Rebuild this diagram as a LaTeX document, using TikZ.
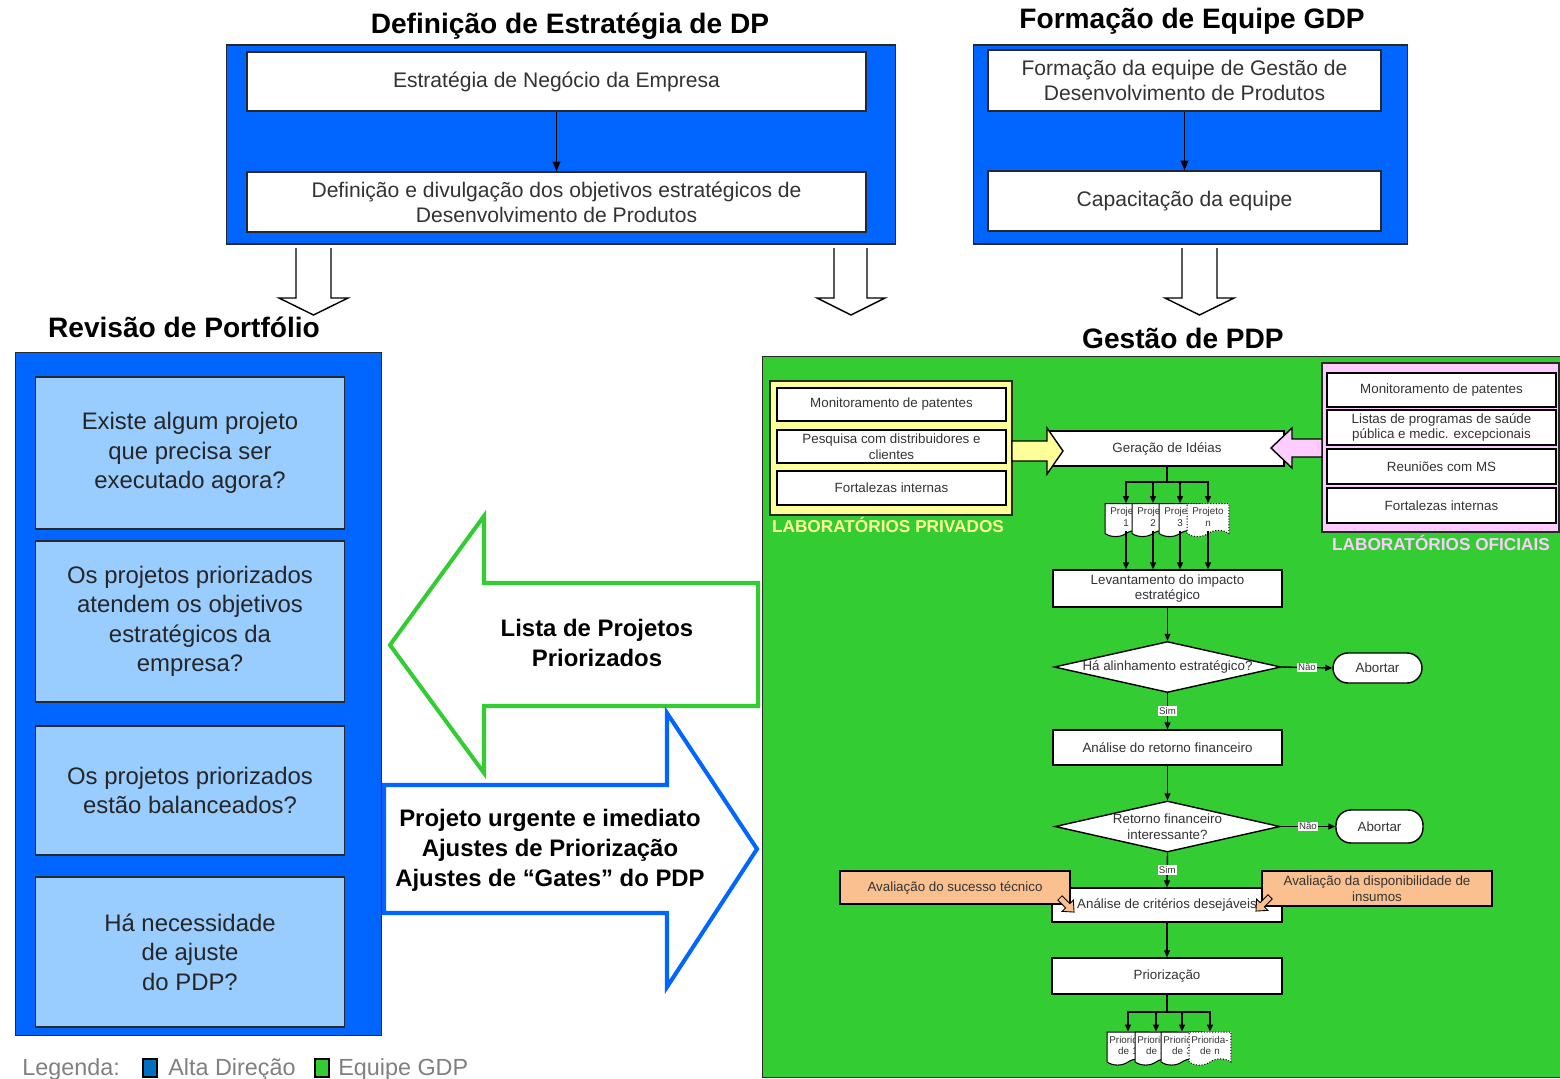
\documentclass[tikz,border=0pt]{standalone}
\usepackage{fontspec}
\setmainfont{Liberation Sans}
\usetikzlibrary{shapes.geometric,shapes.symbols,arrows.meta}

\definecolor{dirblue}{RGB}{0,102,255}
\definecolor{qblue}{RGB}{153,204,255}
\definecolor{gdpgreen}{RGB}{51,204,51}
\definecolor{labyellow}{RGB}{255,255,153}
\definecolor{labpink}{RGB}{255,204,255}
\definecolor{evalorange}{RGB}{250,192,144}
\definecolor{legblue}{RGB}{0,112,192}
\definecolor{txtgray}{RGB}{51,51,51}
\definecolor{leggray}{RGB}{128,128,128}
\definecolor{edgegray}{RGB}{40,40,40}

\begin{document}
\begin{tikzpicture}[x=0.02cm,y=-0.02cm,
  panel/.style={draw=edgegray,line width=0.6pt,fill=dirblue,inner sep=0pt},
  topbox/.style={draw=edgegray,line width=0.9pt,fill=white,inner sep=0pt,align=center,text=txtgray,font=\fontsize{12}{14.2}\selectfont},
  qbox/.style={draw=edgegray,line width=0.6pt,fill=qblue,inner sep=0pt,align=center,text=black!85,font=\fontsize{13.6}{16.8}\selectfont},
  title/.style={font=\fontsize{16}{19}\selectfont\bfseries,anchor=base},
  flow/.style={draw=black,line width=0.8pt,fill=white,inner sep=0pt,align=center,text=txtgray,font=\fontsize{7.6}{9}\selectfont},
  decision/.style={flow,diamond,aspect=4.5},
  pill/.style={flow,rounded corners=0.3cm},
  docnode/.style={tape,tape bend top=none,tape bend height=3.5pt,draw=black,line width=0.6pt,fill=white,inner sep=0.4pt,text width=23pt,align=center,text=txtgray,font=\fontsize{5.6}{6.6}\selectfont},
  yn/.style={fill=white,inner sep=0.7pt,font=\fontsize{5.5}{6}\selectfont,text=black!80},
  mainarrow/.style={-{Triangle[length=5.5pt,width=4.5pt]},line width=0.7pt},
  flowarrow/.style={-{Triangle[length=4pt,width=3.4pt]},line width=0.8pt},
  openarrow/.style={draw=black,line width=0.8pt,line join=miter},
  labname/.style={font=\fontsize{9.8}{11}\selectfont\bfseries},
  legtext/.style={font=\fontsize{13.3}{15}\selectfont,text=leggray,anchor=base west,inner sep=0pt},
  blockarrow/.style={fill=white,line width=2.3pt,line join=miter},
  bigtext/.style={font=\fontsize{13.6}{17}\selectfont\bfseries,align=center}
]
\useasboundingbox[fill=white] (0,0) rectangle (1560,1079);

% ---------- Definição de Estratégia de DP ----------
\node[title] (tdef) at (570,33) {Definição de Estratégia de DP};
\node[panel,minimum width=13.4cm,minimum height=3.98cm] (pdef) at (561,144.5) {};
\node[topbox,minimum width=12.38cm,minimum height=1.18cm] (s1) at (556.5,81.5) {Estratégia de Negócio da Empresa};
\node[topbox,minimum width=12.38cm,minimum height=1.2cm] (s2) at (556.5,202) {Definição e divulgação dos objetivos estratégicos de\\Desenvolvimento de Produtos};
\draw[mainarrow] (s1) -- (s2);

% ---------- Formação de Equipe GDP ----------
\node[title] (tform) at (1192,28) {Formação de Equipe GDP};
\node[panel,minimum width=8.7cm,minimum height=3.98cm] (pform) at (1190.5,144.5) {};
\node[topbox,minimum width=7.86cm,minimum height=1.22cm] (f1) at (1184.5,80.5) {Formação da equipe de Gestão de\\Desenvolvimento de Produtos};
\node[topbox,minimum width=7.86cm,minimum height=1.2cm] (f2) at (1184.5,201) {Capacitação da equipe};
\draw[mainarrow] (f1) -- (f2);

% ---------- open down arrows ----------
\draw[openarrow] (296,248) -- (296,298) -- (279,298) -- (313.5,315) -- (348,298) -- (331,298) -- (331,248);
\draw[openarrow] (834,248) -- (834,298) -- (817,298) -- (851,315) -- (885,298) -- (867,298) -- (867,248);
\draw[openarrow] (1182,248) -- (1182,298) -- (1165,298) -- (1199.5,315) -- (1234,298) -- (1217,298) -- (1217,248);

% ---------- Revisão de Portfólio ----------
\node[title] (trev) at (184,337) {Revisão de Portfólio};
\node[panel,minimum width=7.34cm,minimum height=13.68cm] (prev) at (198.5,694) {};
\node[qbox,minimum width=6.2cm,minimum height=3.04cm] (q1) at (190,453) {Existe algum projeto\\que precisa ser\\executado agora?};
\node[qbox,minimum width=6.2cm,minimum height=3.22cm] (q2) at (190,621.5) {Os projetos priorizados\\atendem os objetivos\\estratégicos da\\empresa?};
\node[qbox,minimum width=6.2cm,minimum height=2.58cm] (q3) at (190,790.5) {Os projetos priorizados\\estão balanceados?};
\node[qbox,minimum width=6.2cm,minimum height=3.0cm] (q4) at (190,952) {Há necessidade\\de ajuste\\do PDP?};

% ---------- block arrows between the two areas ----------
\draw[blockarrow,draw=gdpgreen] (758,583) -- (484,583) -- (484,516) -- (390,645) -- (484,773) -- (484,706) -- (758,706) -- cycle;
\node[bigtext] (lista) at (597,643) {Lista de Projetos\\Priorizados};
\draw[blockarrow,draw=dirblue] (384,785) -- (667,785) -- (667,713) -- (757,849) -- (667,987) -- (667,913) -- (384,913) -- cycle;
\node[bigtext] (urg) at (550,850) {Projeto urgente e imediato\\Ajustes de Priorização\\Ajustes de “Gates” do PDP};

% ---------- Gestão de PDP ----------
\node[title] (tges) at (1183,348) {Gestão de PDP};
\node[draw=edgegray,line width=0.6pt,fill=gdpgreen,inner sep=0pt,minimum width=16.76cm,minimum height=14.44cm] (pges) at (1181,717) {};

% private laboratories
\node[draw=edgegray,line width=0.8pt,fill=labyellow,inner sep=0pt,minimum width=4.84cm,minimum height=2.68cm] (lpriv) at (891,448) {};
\node[flow,minimum width=4.58cm,minimum height=0.66cm] (y1) at (891.5,404.5) {Monitoramento de patentes};
\node[flow,minimum width=4.58cm,minimum height=0.66cm] (y2) at (891.5,446.5) {Pesquisa com distribuidores e\\clientes};
\node[flow,minimum width=4.58cm,minimum height=0.68cm] (y3) at (891.5,488) {Fortalezas internas};
\node[labname,text=labyellow] (lprivname) at (888,525) {LABORATÓRIOS PRIVADOS};

% official laboratories
\node[draw=edgegray,line width=0.8pt,fill=labpink,inner sep=0pt,minimum width=4.74cm,minimum height=3.38cm] (lofi) at (1440.5,447.5) {};
\node[flow,minimum width=4.58cm,minimum height=0.68cm] (p1) at (1441.5,390) {Monitoramento de patentes};
\node[flow,minimum width=4.58cm,minimum height=0.70cm] (p2) at (1441.5,427.5) {Listas de programas de saúde\\pública e medic. excepcionais};
\node[flow,minimum width=4.58cm,minimum height=0.70cm] (p3) at (1441.5,466.5) {Reuniões com MS};
\node[flow,minimum width=4.58cm,minimum height=0.70cm] (p4) at (1441.5,505.5) {Fortalezas internas};
\node[labname,text=labpink] (lofiname) at (1441,543) {LABORATÓRIOS OFICIAIS};

% idea generation
\node[flow,minimum width=4.68cm,minimum height=0.70cm] (gera) at (1167,448.5) {Geração de Idéias};
\draw[draw=black,line width=0.8pt,fill=labyellow,line join=miter] (1012,441) -- (1047,441) -- (1047,428) -- (1063,451) -- (1047,474) -- (1047,461) -- (1012,461) -- cycle;
\draw[draw=black,line width=0.8pt,fill=labpink,line join=miter] (1322,439) -- (1292,439) -- (1292,428) -- (1271,448) -- (1292,468) -- (1292,457) -- (1322,457) -- cycle;

% projects
\node[docnode,minimum height=0.66cm] (d1) at (1126,517) {Projeto\\1};
\node[docnode,minimum height=0.66cm] (d2) at (1153,517) {Projeto\\2};
\node[docnode,minimum height=0.66cm] (d3) at (1180,517) {Projeto\\3};
\node[docnode,minimum height=0.66cm,densely dotted] (d4) at (1208,517) {Projeto\\n};
\coordinate (gbr) at (1167,482);
\draw[line width=0.8pt] (gera.south) -- (gbr);
\foreach \d in {d1,d2,d3,d4} {\draw[flowarrow] (gbr) -| (\d.north);}

\node[flow,minimum width=4.58cm,minimum height=0.74cm] (lev) at (1167.5,588.5) {Levantamento do impacto\\estratégico};
\foreach \d in {d1,d2,d3,d4} {\draw[flowarrow] (\d.south) -- (\d.south |- lev.north);}

\node[decision,minimum width=4.5cm,minimum height=1.02cm] (dia1) at (1167.5,667) {Há alinhamento estratégico?};
\node[pill,minimum width=1.78cm,minimum height=0.6cm] (ab1) at (1377.5,668) {Abortar};
\node[flow,minimum width=4.58cm,minimum height=0.70cm] (ret) at (1167.5,747.5) {Análise do retorno financeiro};
\node[decision,minimum width=4.5cm,minimum height=1.02cm] (dia2) at (1167.5,826.5) {Retorno financeiro\\interessante?};
\node[pill,minimum width=1.74cm,minimum height=0.66cm] (ab2) at (1379.5,826.5) {Abortar};
\node[flow,minimum width=4.6cm,minimum height=0.68cm] (crit) at (1167,905) {Análise de critérios desejáveis};
\node[flow,minimum width=4.6cm,minimum height=0.72cm] (prio) at (1167,976) {Priorização};

\draw[flowarrow] (lev) -- (dia1);
\draw[flowarrow] (dia1.east) -- node[yn] {Não} (ab1.west);
\draw[flowarrow] (dia1.south) -- node[yn] {Sim} (ret.north);
\draw[flowarrow] (ret) -- (dia2);
\draw[flowarrow] (dia2.east) -- node[yn] {Não} (ab2.west);
\draw[flowarrow] (dia2.south) -- node[yn] {Sim} (crit.north);
\draw[flowarrow] (crit) -- (prio);

% desirable criteria inputs
\node[flow,fill=evalorange,minimum width=4.6cm,minimum height=0.66cm] (av1) at (955,887.5) {Avaliação do sucesso técnico};
\node[flow,fill=evalorange,minimum width=4.6cm,minimum height=0.70cm] (av2) at (1377,888.5) {Avaliação da disponibilidade de\\insumos};
\begin{scope}[shift={(1067,905)},rotate=-45]
  \draw[fill=evalorange,line width=0.5pt,line join=miter] (-10,-3) -- (1,-3) -- (1,-8) -- (10,0) -- (1,8) -- (1,3) -- (-10,3) -- cycle;
\end{scope}
\begin{scope}[shift={(1263,904)},rotate=-135]
  \draw[fill=evalorange,line width=0.5pt,line join=miter] (-10,-3) -- (1,-3) -- (1,-8) -- (10,0) -- (1,8) -- (1,3) -- (-10,3) -- cycle;
\end{scope}

% prioritised projects
\node[docnode,minimum height=0.66cm] (r1) at (1128,1045.5) {Priorida-\\de 1};
\node[docnode,minimum height=0.66cm] (r2) at (1156,1045.5) {Priorida-\\de 2};
\node[docnode,minimum height=0.66cm] (r3) at (1182,1045.5) {Priorida-\\de 3};
\node[docnode,minimum height=0.66cm,densely dotted] (r4) at (1210,1045.5) {Priorida-\\de n};
\coordinate (pbr) at (1167,1012);
\draw[line width=0.8pt] (prio.south) -- (pbr);
\foreach \r in {r1,r2,r3,r4} {\draw[flowarrow] (pbr) -| (\r.north);}

% ---------- legend ----------
\node[legtext] (leg) at (22,1075) {Legenda:};
\node[draw=black,line width=0.6pt,fill=legblue,inner sep=0pt,minimum width=0.28cm,minimum height=0.36cm] (legb) at (150,1068) {};
\node[legtext] (legbt) at (168,1075) {Alta Direção};
\node[draw=black,line width=0.6pt,fill=gdpgreen,inner sep=0pt,minimum width=0.28cm,minimum height=0.36cm] (legg) at (322,1068) {};
\node[legtext] (leggt) at (338,1075) {Equipe GDP};
\end{tikzpicture}
\end{document}
